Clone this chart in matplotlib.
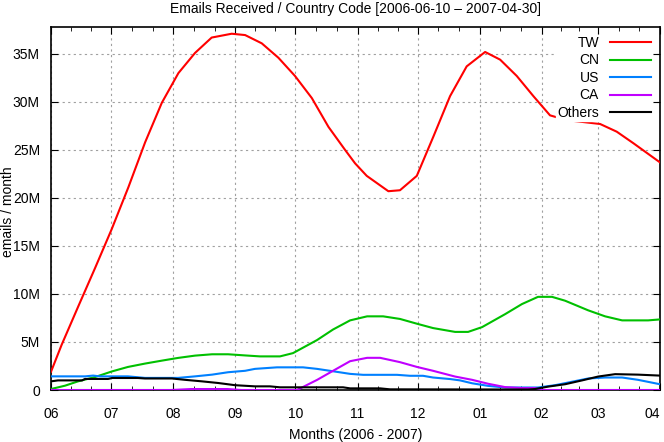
import numpy as np
import matplotlib
matplotlib.use('Agg')
import matplotlib.pyplot as plt
from matplotlib.ticker import FixedLocator, FuncFormatter

plt.rcParams['font.family'] = ['Liberation Sans', 'DejaVu Sans']

# days since 2006-06-01 -> emails (millions)
tw_days = [0, 5.3, 13.6, 22, 30.3, 38.6, 47, 55.3, 63.6, 71.9, 80.2, 90.2, 96.9, 105.2,
           113.5, 121.8, 130.2, 138.5, 146.8, 151.8, 157.6, 168.4, 174.2, 182.6, 190.9,
           199.2, 207.5, 216.7, 224.2, 232.5, 240.8, 249.1, 257.5, 265.8, 274.1, 282.4,
           290.7, 304]
tw_vals = [1.9, 4.7, 8.7, 12.7, 16.75, 21.1, 25.8, 29.9, 33.0, 35.1, 36.7, 37.1, 36.96,
           36.1, 34.6, 32.7, 30.4, 27.4, 25.0, 23.6, 22.3, 20.7, 20.8, 22.3, 26.4, 30.6,
           33.7, 35.2, 34.4, 32.7, 30.6, 28.6, 28.1, 27.9, 27.7, 26.9, 25.7, 23.7]

cn_days = [0, 7, 13.5, 22, 30.5, 38.4, 46.9, 55.4, 63.4, 71.9, 80.4, 88.4, 96.9, 104.3,
           114.3, 120.8, 132.8, 140.8, 149.3, 157.8, 165.8, 174.2, 182.7, 190.7, 201.7,
           208.2, 215.2, 226.7, 235.1, 243.1, 250.1, 256.6, 268.1, 276.6, 285.1, 298.1, 304]
cn_vals = [0.1, 0.45, 0.9, 1.35, 1.94, 2.4, 2.75, 3.06, 3.34, 3.58, 3.72, 3.72, 3.6, 3.5,
           3.5, 3.84, 5.2, 6.3, 7.25, 7.67, 7.67, 7.4, 6.9, 6.45, 6.05, 6.05, 6.55, 7.9,
           8.95, 9.7, 9.7, 9.3, 8.3, 7.67, 7.25, 7.25, 7.35]

us_days = [0, 17, 21, 24.5, 38.4, 46.9, 63.4, 71.9, 80.4, 88.4, 96.9, 101.8, 112.8, 125.8,
           132.8, 140.8, 149.3, 155.8, 172.7, 179.2, 185.7, 190.7, 199.2, 204.2, 210.2,
           218.2, 226.7, 243.1, 251.6, 268.1, 276.6, 285.1, 293, 304]
us_vals = [1.42, 1.42, 1.5, 1.42, 1.42, 1.26, 1.26, 1.42, 1.6, 1.85, 2.0, 2.2, 2.36, 2.36,
           2.2, 1.95, 1.68, 1.58, 1.58, 1.48, 1.48, 1.3, 1.14, 1.0, 0.7, 0.43, 0.26, 0.26,
           0.5, 1.2, 1.3, 1.3, 1.06, 0.6]

ca_days = [0, 60, 70, 88, 95, 122.8, 132.8, 140.8, 149.3, 157.8, 164.3, 174.2, 182.7,
           190.7, 201.7, 210.2, 218.2, 226.7, 235.1, 241.6, 245.1, 304]
ca_vals = [0, 0, 0.1, 0.1, 0, 0, 1.05, 2.0, 3.0, 3.35, 3.35, 2.9, 2.4, 2.0, 1.4, 1.06,
           0.65, 0.3, 0.2, 0.2, 0, 0]

ot_days = [0, 3.5, 15.5, 17, 28.5, 30.5, 43.4, 46.9, 60.4, 66.9, 75.4, 83.4, 91.9, 101.8,
           109.3, 114.3, 145.8, 149.3, 164.3, 169.2, 238.1, 241.6, 248.1, 256.6, 265.1,
           273.1, 281.6, 293, 304]
ot_vals = [0.9, 1.0, 1.0, 1.15, 1.15, 1.25, 1.25, 1.2, 1.2, 1.06, 0.9, 0.73, 0.5, 0.38,
           0.38, 0.28, 0.28, 0.17, 0.17, 0.07, 0.05, 0.1, 0.35, 0.6, 1.0, 1.4, 1.65, 1.6, 1.5]

month_days = [0, 30, 61, 92, 122, 153, 183, 214, 245, 273, 304]
month_labels = ['06', '07', '08', '09', '10', '11', '12', '01', '02', '03', '04']
ytick_vals = [0, 5, 10, 15, 20, 25, 30, 35]

series = [('TW', tw_days, tw_vals, '#ff0000'),
          ('CN', cn_days, cn_vals, '#00c000'),
          ('US', us_days, us_vals, '#0080ff'),
          ('CA', ca_days, ca_vals, '#c000ff'),
          ('Others', ot_days, ot_vals, '#000000')]

fig = plt.figure(figsize=(6.64, 4.42), dpi=100)
ax = fig.add_axes([51 / 664, 1 - 390 / 442, 609 / 664, 363 / 442])

for name, d, v, c in series:
    ax.plot(d, np.array(v) * 1e6, color=c, lw=1.5, label=name, zorder=3)

ax.set_xlim(0, 304)
ax.set_ylim(0, 37.8e6)

ax.xaxis.set_major_locator(FixedLocator(month_days))
ax.set_xticklabels(month_labels)
ax.get_xticklabels()[-1].set_ha('right')
minors = []
for a, b in zip(month_days[:-1], month_days[1:]):
    minors += [a + (b - a) / 3, a + 2 * (b - a) / 3]
ax.xaxis.set_minor_locator(FixedLocator(minors))
ax.set_yticks([y * 1e6 for y in ytick_vals])
ax.yaxis.set_major_formatter(FuncFormatter(lambda v, p: '0' if v == 0 else '%dM' % round(v / 1e6)))

ax.tick_params(which='both', direction='in', top=True, right=True, labelsize=10, colors='black')
ax.tick_params(axis='x', which='major', length=5, pad=12)
ax.tick_params(axis='x', which='minor', length=3)
ax.tick_params(axis='y', which='major', length=5, pad=8)
ax.grid(True, which='major', color='#a0a0a0', linestyle=(0, (2, 3)), lw=0.8, zorder=1)
for s in ax.spines.values():
    s.set_linewidth(1.2)

ax.set_title('Emails Received / Country Code [2006-06-10 \u2013 2007-04-30]', fontsize=10, pad=10)
ax.set_xlabel('Months (2006 - 2007)', fontsize=10, labelpad=5)
fig.text(8 / 664, 1 - 212 / 442, 'emails / month', rotation=90, fontsize=10,
         ha='center', va='center')

leg = ax.legend(loc='upper right', markerfirst=False, frameon=True, fontsize=10,
                handlelength=2.95, handletextpad=0.8, labelspacing=0.25,
                borderaxespad=0.55, borderpad=0.1, fancybox=False)
leg.get_frame().set_edgecolor('white')
leg.get_frame().set_facecolor('white')
leg.get_frame().set_alpha(1)
for t in leg.get_texts():
    t.set_ha('right')
leg.set_zorder(5)

fig.savefig('out.png', dpi=100)
